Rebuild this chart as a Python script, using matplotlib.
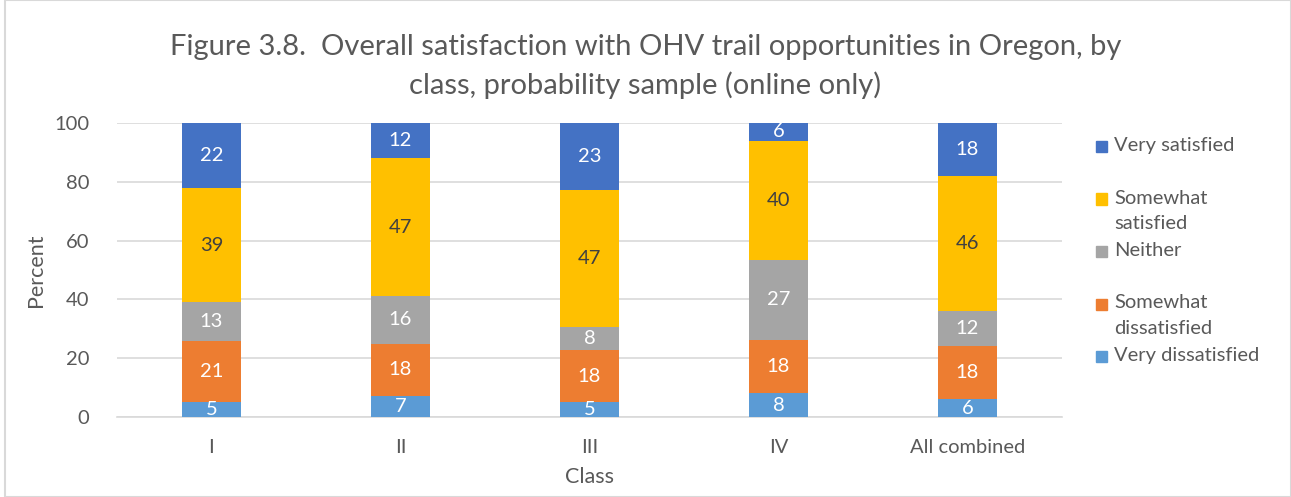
#!/usr/bin/env python3
# -*- coding: utf-8 -*-

"""
Overall satisfaction with OHV trail opportunities, stacked percent bars.
"""

import numpy as np
from matplotlib import pyplot as plt
from matplotlib.patches import Rectangle

# DATA ########################################################################

classes = ["I", "II", "III", "IV", "All combined"]

levels = ["Very dissatisfied", "Somewhat dissatisfied", "Neither",
          "Somewhat satisfied", "Very satisfied"]

very_dissatisfied = [5, 7, 5, 8, 6]
somewhat_dissatisfied = [21, 18, 18, 18, 18]
neither = [13, 16, 8, 27, 12]
somewhat_satisfied = [39, 47, 47, 40, 46]
very_satisfied = [22, 12, 23, 6, 18]

legend_labels = ["Very satisfied", "Somewhat\nsatisfied", "Neither",
                 "Somewhat\ndissatisfied", "Very dissatisfied"]

colors = ["#5B9BD5", "#ED7D31", "#A5A5A5", "#FFC000", "#4472C4"]
label_colors = ["white", "white", "white", "#404040", "white"]

# PLOT ########################################################################

plt.rcParams['font.family'] = ['Lato', 'DejaVu Sans']

W, H = 1291, 497
fig = plt.figure(figsize=(W / 100, H / 100), dpi=100)
ax = fig.add_axes([117 / W, 1 - 417 / H, (1062 - 117) / W, (417 - 123) / H])

series = np.array([very_dissatisfied, somewhat_dissatisfied, neither,
                   somewhat_satisfied, very_satisfied], dtype=float)
# 100% stacked: each column scaled to sum 100
shares = series / series.sum(axis=0) * 100.

x = np.arange(len(classes))
bottom = np.zeros(len(classes))
for i, name in enumerate(levels):
    bars = ax.bar(x, shares[i], bottom=bottom, width=0.31, color=colors[i],
                  zorder=3, label=name)
    for xi, b, h, v in zip(x, bottom, shares[i], series[i]):
        ax.text(xi, b + h / 2., "{:d}".format(int(v)), ha="center",
                va="center", fontsize=14.5, color=label_colors[i], zorder=4)
    bottom += shares[i]

ax.set_xlim(-0.5, len(classes) - 0.5)
ax.set_ylim(0, 100)
ax.set_yticks(range(0, 101, 20))
ax.set_xticks(x)
ax.set_xticklabels(classes)
ax.tick_params(axis="both", length=0, labelsize=14.5, colors="#595959")
ax.tick_params(axis="y", pad=20)
ax.tick_params(axis="x", pad=16)
ax.grid(axis="y", color="#D9D9D9", linewidth=1.2, zorder=0)
for side in ["top", "right", "left"]:
    ax.spines[side].set_visible(False)
ax.spines["bottom"].set_color("#D9D9D9")
ax.spines["bottom"].set_linewidth(1.2)

ax.set_xlabel("Class", fontsize=15.5, color="#595959", labelpad=8)
ax.set_ylabel("Percent", fontsize=15.5, color="#595959", labelpad=6)

fig.text(0.5, 1 - 47 / H, "Figure 3.8.  Overall satisfaction with OHV trail "
         "opportunities in Oregon, by", ha="center", va="center",
         fontsize=21, color="#595959")
fig.text(0.5, 1 - 85 / H, "class, probability sample (online only)",
         ha="center", va="center", fontsize=21, color="#595959")

# Legend (drawn by hand to keep Excel-like spacing) #######################
legend_colors = colors[::-1]
for k, (lab, col) in enumerate(zip(legend_labels, legend_colors)):
    yc = 147 + k * 52.5
    fig.patches.append(Rectangle((1096 / W, 1 - (yc + 5) / H), 11 / W, 11 / H,
                                 transform=fig.transFigure, color=col))
    fig.text(1114 / W, 1 - (yc - 10) / H, lab, ha="left", va="top",
             fontsize=14.5, color="#595959", linespacing=1.6)

fig.patches.append(Rectangle((5 / W, 0), 1 - 5 / W, 1,
                             transform=fig.transFigure, fill=False,
                             edgecolor="#D9D9D9", linewidth=1.5))

fig.savefig("out.png", dpi=100)
